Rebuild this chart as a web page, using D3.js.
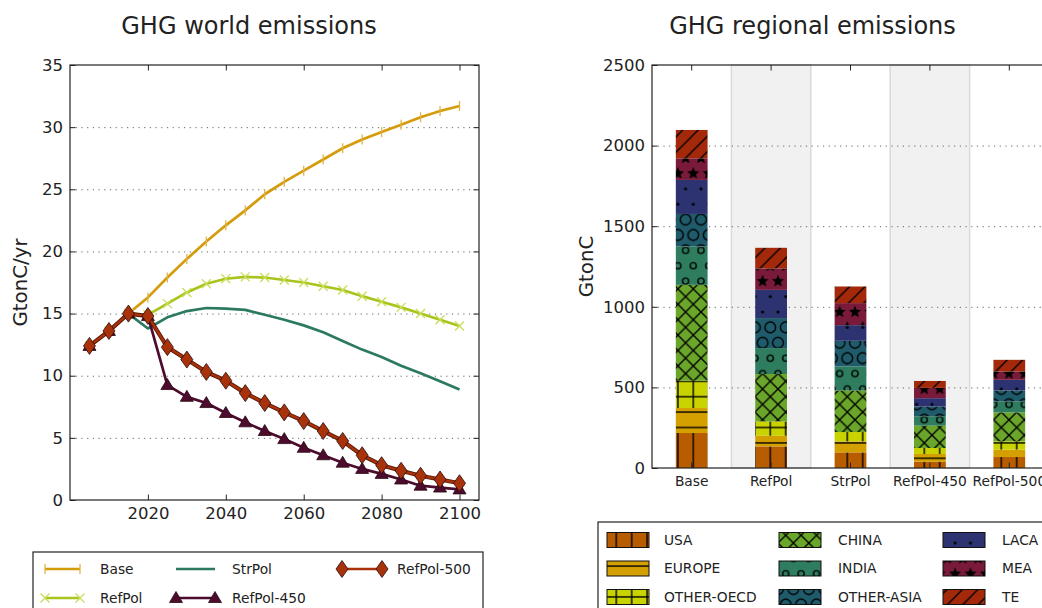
<!DOCTYPE html>
<html>
<head>
<meta charset="utf-8">
<script src="https://cdn.jsdelivr.net/npm/d3@7"></script>
<style>
  body { margin: 0; background: #fff; }
  svg { display: block; font-family: "DejaVu Sans", sans-serif; }
</style>
</head>
<body>
<svg id="chart" width="1042" height="608"></svg>
<script>
// ---- data: world emissions (GtonC/yr)
var years = [2005, 2010, 2015, 2020, 2025, 2030, 2035, 2040, 2045, 2050,
             2055, 2060, 2065, 2070, 2075, 2080, 2085, 2090, 2095, 2100];
var base      = [12.4, 13.6, 15.0, 16.3, 17.9, 19.4, 20.8, 22.1, 23.3, 24.6,
                 25.6, 26.5, 27.4, 28.3, 29.0, 29.6, 30.2, 30.8, 31.3, 31.7];
var refPol    = [12.4, 13.6, 15.0, 14.9, 15.8, 16.7, 17.4, 17.8, 17.95, 17.9,
                 17.7, 17.5, 17.2, 16.9, 16.4, 15.95, 15.5, 15.0, 14.5, 14.0];
var strPol    = [12.4, 13.6, 15.0, 13.8, 14.7, 15.2, 15.45, 15.4, 15.3, 14.9,
                 14.5, 14.05, 13.5, 12.8, 12.1, 11.5, 10.8, 10.2, 9.55, 8.9];
var refPol450 = [12.4, 13.6, 15.0, 14.8, 9.25, 8.3, 7.8, 7.0, 6.25, 5.55,
                 4.9, 4.2, 3.6, 3.0, 2.5, 2.1, 1.65, 1.15, 1.0, 0.85];
var refPol500 = [12.4, 13.6, 15.0, 14.8, 12.3, 11.3, 10.3, 9.6, 8.6, 7.8,
                 7.05, 6.35, 5.55, 4.75, 3.6, 2.8, 2.35, 1.95, 1.65, 1.35];
var xTicks = [2020, 2040, 2060, 2080, 2100];
var yTicks = [0, 5, 10, 15, 20, 25, 30, 35];

// ---- data: regional cumulative emissions (GtonC)
var scenarios = ["Base", "RefPol", "StrPol", "RefPol-450", "RefPol-500"];
var regions = ["USA", "EUROPE", "OTHER-OECD", "CHINA", "INDIA", "OTHER-ASIA", "LACA", "MEA", "TE"];
var usa       = [217, 134, 97, 39, 68];
var europe    = [155, 66, 68, 48, 46];
var otherOecd = [169, 89, 58, 37, 51];
var china     = [595, 294, 258, 139, 180];
var india     = [238, 161, 149, 58, 68];
var otherAsia = [202, 186, 159, 60, 68];
var laca      = [211, 175, 97, 52, 66];
var mea       = [134, 133, 137, 64, 52];
var te        = [176, 128, 103, 43, 72];
var barTicks = [0, 500, 1000, 1500, 2000, 2500];

var svg = d3.select("#chart");
var textCol = "#222";

// ================= left: world emissions =================
var L = {left: 70, right: 479, top: 65, bottom: 500};
var x = d3.scaleLinear().domain([2000, 2105]).range([L.left, L.right]);
var y = d3.scaleLinear().domain([0, 35]).range([L.bottom, L.top]);

svg.append("text").attr("x", 249).attr("y", 34).attr("text-anchor", "middle")
  .attr("font-size", 24).attr("fill", textCol).text("GHG world emissions");

// grid
var gridL = svg.append("g").attr("transform", "translate(" + L.left + ",0)")
  .call(d3.axisLeft(y).tickValues(yTicks.slice(1, -1)).tickSize(-(L.right - L.left)).tickFormat(""));
gridL.select(".domain").remove();
gridL.selectAll("line").attr("stroke", "#666").attr("stroke-width", 1).attr("stroke-dasharray", "1.2,4.5");

function styleAxis(g, size) {
  g.select(".domain").remove();
  g.selectAll("line").attr("stroke", "#222").attr("stroke-width", 1);
  g.selectAll("text").attr("font-size", size).attr("fill", textCol)
    .attr("font-family", "DejaVu Sans, sans-serif");
}

styleAxis(svg.append("g").attr("transform", "translate(0," + L.bottom + ")")
  .call(d3.axisBottom(x).tickValues(xTicks).tickSize(-5.5).tickPadding(7).tickFormat(d3.format("d"))), 16.5);
styleAxis(svg.append("g").attr("transform", "translate(0," + L.top + ")")
  .call(d3.axisTop(x).tickValues(xTicks).tickSize(-5.5).tickFormat("")), 16.5);
styleAxis(svg.append("g").attr("transform", "translate(" + L.left + ",0)")
  .call(d3.axisLeft(y).tickValues(yTicks).tickSize(-5.5).tickPadding(7).tickFormat(d3.format("d"))), 16.5);
styleAxis(svg.append("g").attr("transform", "translate(" + L.right + ",0)")
  .call(d3.axisRight(y).tickValues(yTicks).tickSize(-5.5).tickFormat("")), 16.5);

svg.append("rect").attr("x", L.left).attr("y", L.top)
  .attr("width", L.right - L.left).attr("height", L.bottom - L.top)
  .attr("fill", "none").attr("stroke", "#222").attr("stroke-width", 1.2);

svg.append("text").attr("transform", "translate(27," + ((L.top + L.bottom) / 2) + ") rotate(-90)")
  .attr("text-anchor", "middle").attr("font-size", 19.8).attr("fill", textCol).text("GtonC/yr");

// marker shapes
function markerPath(kind) {
  if (kind === "vbar") return "M0,-5L0,5";
  if (kind === "x") return "M-4.5,-4.5L4.5,4.5M-4.5,4.5L4.5,-4.5";
  if (kind === "tri") return "M0,-6.5L6.5,4.5L-6.5,4.5Z";
  if (kind === "dia") return "M0,-8.5L6,0L0,8.5L-6,0Z";
  return null;
}

var series = [
  {name: "Base", values: base, color: "#d49b0b", marker: "vbar", mcolor: "#e0b545", filled: false},
  {name: "RefPol", values: refPol, color: "#a8c41d", marker: "x", mcolor: "#c9de5a", filled: false},
  {name: "StrPol", values: strPol, color: "#2b7a60", marker: null},
  {name: "RefPol-450", values: refPol450, color: "#4d0b2e", marker: "tri", mcolor: "#4d0b2e", filled: true},
  {name: "RefPol-500", values: refPol500, color: "#a83209", marker: "dia", mcolor: "#a83209", filled: true, outline: "#5a1a08"}
];

var line = d3.line().x(function(d, i) { return x(years[i]); }).y(function(d) { return y(d); });

series.forEach(function(s) {
  var g = svg.append("g");
  if (s.outline) {
    g.append("path").attr("d", line(s.values)).attr("fill", "none")
      .attr("stroke", s.outline).attr("stroke-width", 4.2).attr("stroke-linejoin", "round");
  }
  g.append("path").attr("d", line(s.values)).attr("fill", "none")
    .attr("stroke", s.color).attr("stroke-width", s.outline ? 2.4 : 2.7).attr("stroke-linejoin", "round");
  if (s.marker) {
    g.selectAll(".m").data(s.values).enter().append("path")
      .attr("transform", function(d, i) { return "translate(" + x(years[i]) + "," + y(d) + ")"; })
      .attr("d", markerPath(s.marker))
      .attr("fill", s.filled ? s.mcolor : "none")
      .attr("stroke", s.filled ? "#2a0a10" : s.mcolor)
      .attr("stroke-width", s.filled ? 0.8 : 1.3);
  }
});

// left legend
svg.append("rect").attr("x", 33).attr("y", 552).attr("width", 450).attr("height", 90)
  .attr("fill", "#fff").attr("stroke", "#222").attr("stroke-width", 1.2);
var legCols = [{x0: 45, x1: 80, tx: 100}, {x0: 176, x1: 215, tx: 232}, {x0: 342, x1: 382, tx: 397}];
var legRows = [569, 598];
series.forEach(function(s, i) {
  var c = legCols[Math.floor(i / 2)], ry = legRows[i % 2];
  var g = svg.append("g");
  g.append("line").attr("x1", c.x0).attr("x2", c.x1).attr("y1", ry).attr("y2", ry)
    .attr("stroke", s.color).attr("stroke-width", 2.7);
  if (s.marker) {
    [c.x0, c.x1].forEach(function(mx) {
      g.append("path").attr("transform", "translate(" + mx + "," + ry + ")")
        .attr("d", markerPath(s.marker))
        .attr("fill", s.filled ? s.mcolor : "none")
        .attr("stroke", s.filled ? "#2a0a10" : s.mcolor)
        .attr("stroke-width", s.filled ? 0.8 : 1.3);
    });
  }
  g.append("text").attr("x", c.tx).attr("y", ry).attr("dy", "0.35em")
    .attr("font-size", 13.8).attr("fill", textCol).text(s.name);
});

// ================= right: regional emissions =================
var R = {left: 652, right: 1049, top: 65, bottom: 468};
var xb = d3.scaleBand().domain(scenarios).range([R.left, R.right]).padding(0);
var yb = d3.scaleLinear().domain([0, 2500]).range([R.bottom, R.top]);
var barW = xb.bandwidth() * 0.4;

svg.append("text").attr("x", 812.5).attr("y", 34).attr("text-anchor", "middle")
  .attr("font-size", 24).attr("fill", textCol).text("GHG regional emissions");

// alternating bands
svg.append("g").selectAll("rect").data(scenarios.filter(function(d, i) { return i % 2 === 1; }))
  .enter().append("rect")
  .attr("x", function(d) { return xb(d); }).attr("y", R.top)
  .attr("width", xb.bandwidth()).attr("height", R.bottom - R.top)
  .attr("fill", "#f1f1f1").attr("stroke", "#d9d9d9").attr("stroke-width", 1.5);

var gridR = svg.append("g").attr("transform", "translate(" + R.left + ",0)")
  .call(d3.axisLeft(yb).tickValues(barTicks.slice(1, -1)).tickSize(-(R.right - R.left)).tickFormat(""));
gridR.select(".domain").remove();
gridR.selectAll("line").attr("stroke", "#666").attr("stroke-width", 1).attr("stroke-dasharray", "1.2,4.5");

// hatch patterns
var regionColors = ["#b85c00", "#d4a000", "#c9d300", "#6aa62a", "#2e7d5e", "#1f5b6b", "#2d3270", "#7a1a3a", "#a3290a"];
var regionHatch = ["|", "-", "+", "x", "o", "O", ".", "*", "/"];
var T = 15.4;
var defs = svg.append("defs");

function starPath(cx, cy, r) {
  var pts = [];
  for (var k = 0; k < 10; k++) {
    var rr = k % 2 === 0 ? r : r * 0.45;
    var a = -Math.PI / 2 + k * Math.PI / 5;
    pts.push([cx + rr * Math.cos(a), cy + rr * Math.sin(a)]);
  }
  return "M" + pts.map(function(p) { return p[0].toFixed(2) + "," + p[1].toFixed(2); }).join("L") + "Z";
}

regions.forEach(function(r, i) {
  var h = regionHatch[i];
  var shape = (h === "o" || h === "O" || h === "." || h === "*");
  var pw = T, ph = shape ? 2 * T : T;
  var p = defs.append("pattern").attr("id", "hatch" + i)
    .attr("patternUnits", "userSpaceOnUse").attr("width", pw).attr("height", ph)
    .attr("x", 8).attr("y", 4);
  p.append("rect").attr("width", pw).attr("height", ph).attr("fill", regionColors[i]);
  function ln(x1, y1, x2, y2) {
    p.append("line").attr("x1", x1).attr("y1", y1).attr("x2", x2).attr("y2", y2)
      .attr("stroke", "#000").attr("stroke-width", 1.4);
  }
  if (h === "|" || h === "+") ln(T / 2, 0, T / 2, T);
  if (h === "-" || h === "+") ln(0, T / 2, T, T / 2);
  if (h === "x") { ln(-1, -1, T + 1, T + 1); ln(-1, T + 1, T + 1, -1); }
  if (h === "/") { ln(-1, T + 1, T + 1, -1); ln(-1, 1, 1, -1); ln(T - 1, T + 1, T + 1, T - 1); }
  if (shape) {
    var centers = [[0, 0], [T, 0], [0, 2 * T], [T, 2 * T], [T / 2, T]];
    centers.forEach(function(c) {
      if (h === "*") {
        p.append("path").attr("d", starPath(c[0], c[1], 0.42 * T)).attr("fill", "#000");
      } else {
        var rad = h === "o" ? 0.2 * T : (h === "O" ? 0.35 * T : 0.1 * T);
        p.append("circle").attr("cx", c[0]).attr("cy", c[1]).attr("r", rad)
          .attr("fill", h === "." ? "#000" : "none")
          .attr("stroke", h === "." ? "none" : "#000").attr("stroke-width", 1.4);
      }
    });
  }
});

// stacked bars
var regionValues = [usa, europe, otherOecd, china, india, otherAsia, laca, mea, te];
var table = scenarios.map(function(s, j) {
  var row = {scenario: s};
  regions.forEach(function(r, i) { row[r] = regionValues[i][j]; });
  return row;
});
var stacked = d3.stack().keys(regions)(table);

svg.append("g").selectAll("g").data(stacked).enter().append("g")
  .attr("fill", function(d, i) { return "url(#hatch" + i + ")"; })
  .selectAll("rect").data(function(d) { return d; }).enter().append("rect")
  .attr("x", function(d) { return xb(d.data.scenario) + (xb.bandwidth() - barW) / 2; })
  .attr("y", function(d) { return yb(d[1]); })
  .attr("width", barW)
  .attr("height", function(d) { return yb(d[0]) - yb(d[1]); });

styleAxis(svg.append("g").attr("transform", "translate(0," + R.bottom + ")")
  .call(d3.axisBottom(xb).tickSize(-5.5).tickPadding(8.5)), 13.8);
styleAxis(svg.append("g").attr("transform", "translate(0," + R.top + ")")
  .call(d3.axisTop(xb).tickSize(-5.5).tickFormat("")), 13.8);
styleAxis(svg.append("g").attr("transform", "translate(" + R.left + ",0)")
  .call(d3.axisLeft(yb).tickValues(barTicks).tickSize(-5.5).tickPadding(7).tickFormat(d3.format("d"))), 16.5);

svg.append("rect").attr("x", R.left).attr("y", R.top)
  .attr("width", R.right - R.left).attr("height", R.bottom - R.top)
  .attr("fill", "none").attr("stroke", "#222").attr("stroke-width", 1.2);

svg.append("text").attr("transform", "translate(593," + ((R.top + R.bottom) / 2) + ") rotate(-90)")
  .attr("text-anchor", "middle").attr("font-size", 19.8).attr("fill", textCol).text("GtonC");

// right legend
svg.append("rect").attr("x", 598).attr("y", 522).attr("width", 470).attr("height", 110)
  .attr("fill", "#fff").attr("stroke", "#222").attr("stroke-width", 1.2);
var regCols = [{px: 607, tx: 664}, {px: 779, tx: 838}, {px: 943, tx: 1002}];
var regRows = [540, 568.5, 597];
regions.forEach(function(r, i) {
  var c = regCols[Math.floor(i / 3)], ry = regRows[i % 3];
  svg.append("rect").attr("x", c.px).attr("y", ry - 7.5).attr("width", 42).attr("height", 15)
    .attr("fill", "url(#hatch" + i + ")").attr("stroke", "#111").attr("stroke-width", 1);
  svg.append("text").attr("x", c.tx).attr("y", ry).attr("dy", "0.35em")
    .attr("font-size", 13.8).attr("fill", textCol).text(r);
});
</script>
</body>
</html>
